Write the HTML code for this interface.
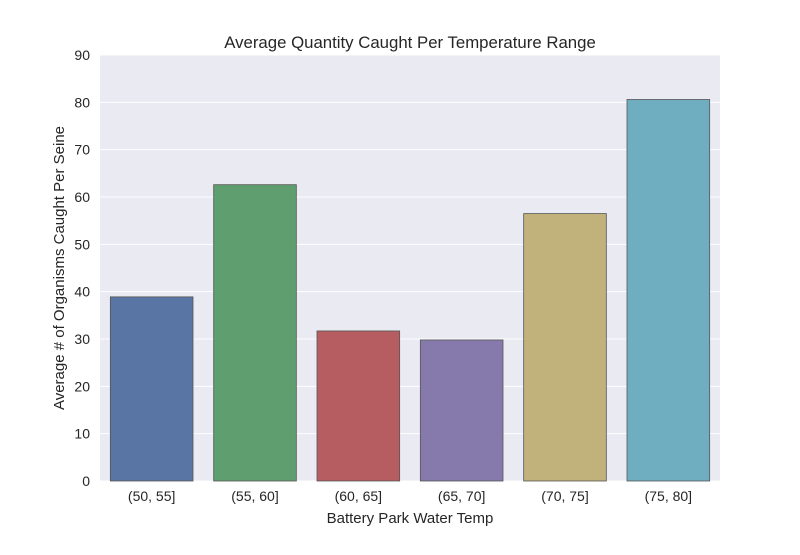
<!DOCTYPE html>
<html><head><meta charset="utf-8"><style>
body{margin:0;background:#fff;font-family:"Liberation Sans",sans-serif;}
svg text{font-family:"Liberation Sans",sans-serif;fill:#262626;}
</style></head><body>
<svg id="chart" width="800" height="550" viewBox="0 0 800 550">
<rect x="100" y="55" width="620" height="426" fill="#eaeaf2"/>
<g id="grid"></g><g id="bars"></g><g id="ticks"></g>
<text x="410" y="48" font-size="16.8" text-anchor="middle">Average Quantity Caught Per Temperature Range</text>
<text x="410" y="523" font-size="15" text-anchor="middle">Battery Park Water Temp</text>
<text transform="translate(64,268) rotate(-90)" font-size="15" text-anchor="middle">Average # of Organisms Caught Per Seine</text>
</svg>
<script>
const categories=["(50, 55]","(55, 60]","(60, 65]","(65, 70]","(70, 75]","(75, 80]"];
const values=[38.9,62.6,31.7,29.8,56.5,80.6];
const yTicks=[0,10,20,30,40,50,60,70,80,90];
const colors=["#5975a4","#5f9e6e","#b55d60","#857aab","#c1b17b","#6fadc0"];
const NS="http://www.w3.org/2000/svg";
const x0=100,x1=720,y0=481,y1=55,ymax=90;
const ys=v=>y0-(y0-y1)*v/ymax;
const band=(x1-x0)/categories.length;
const xs=i=>x0+band*i;
function mk(t,a,p){const e=document.createElementNS(NS,t);for(const k in a)e.setAttribute(k,a[k]);document.getElementById(p).appendChild(e);return e;}
yTicks.forEach(t=>{
  const l=mk('line',{x1:x0,x2:x1,y1:ys(t),y2:ys(t),stroke:'#fff','stroke-width':1},'grid');
  
  
  const tx=mk('text',{x:90,y:ys(t)+5,'font-size':14,'text-anchor':'end'},'ticks');
  tx.textContent=t;
  
  
});
categories.forEach((c,i)=>{
  const w=band*0.8;
  const r=mk('rect',{x:xs(i)+band*0.1,y:ys(values[i]),width:w,height:y0-ys(values[i]),fill:colors[i],stroke:'#555','stroke-width':0.8},'bars');
  
  
  const tx=mk('text',{x:xs(i)+band/2,y:501,'font-size':14,'text-anchor':'middle'},'ticks');
  tx.textContent=c;
  
  
});
</script>
</body></html>
